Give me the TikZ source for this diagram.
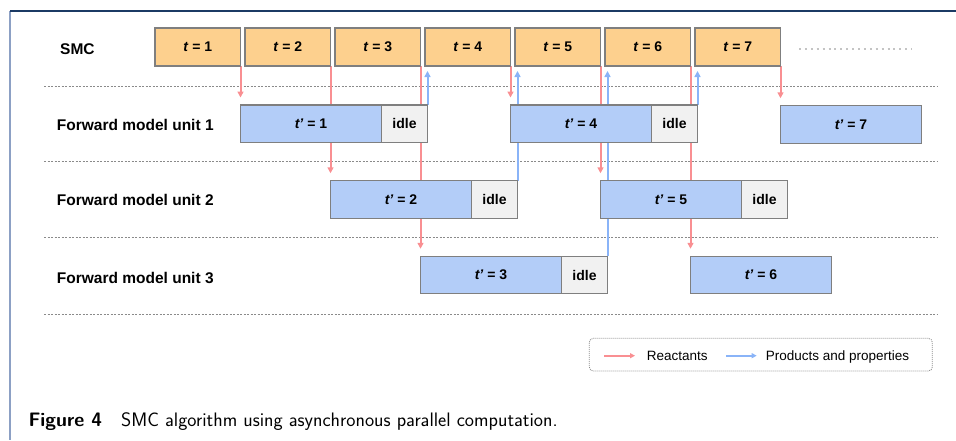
\documentclass[tikz,border=0pt]{standalone}
\usepackage{fontspec}
\newfontfamily\diafont{Liberation Sans}
\usetikzlibrary{arrows.meta,calc}
\pgfdeclarelayer{back}
\pgfsetlayers{back,main}

\definecolor{smcfill}{HTML}{FDD08E}
\definecolor{fwdfill}{HTML}{B3CDF8}
\definecolor{idlefill}{HTML}{F1F1F1}
\definecolor{boxline}{HTML}{7F7F7F}
\definecolor{reactred}{HTML}{F98F92}
\definecolor{prodblue}{HTML}{8AB4F8}
\definecolor{framenavy}{HTML}{1B3A64}
\definecolor{frameside}{HTML}{8CA0C4}
\definecolor{sepgray}{HTML}{8A8A8A}
\definecolor{moregray}{HTML}{C4C4C4}

\tikzset{
  box/.style={draw=boxline, line width=1.2pt, inner sep=0pt, outer sep=0pt,
    font=\diafont\bfseries\fontsize{14}{16}\selectfont},
  smcbox/.style={box, fill=smcfill, minimum width=85.5pt, minimum height=38pt},
  fwdbox/.style={box, fill=fwdfill, minimum width=141pt, minimum height=37.5pt, anchor=west},
  idlebox/.style={box, fill=idlefill, minimum width=46pt, minimum height=37.5pt, anchor=west},
  rowlabel/.style={font=\diafont\bfseries\fontsize{15.5}{18}\selectfont, anchor=base west, inner sep=0pt},
  react/.style={draw=reactred, line width=2pt, -{Triangle[length=6pt,width=6pt]}},
  prod/.style={draw=prodblue, line width=2pt, -{Triangle[length=6pt,width=6pt]}},
  keyreact/.style={draw=reactred, line width=1.6pt, -{Triangle[length=5pt,width=5pt]}},
  keyprod/.style={draw=prodblue, line width=1.6pt, -{Triangle[length=5pt,width=5pt]}},
  sepline/.style={draw=sepgray, line width=0.8pt, dash pattern=on 2pt off 1.5pt},
  keytext/.style={font=\diafont\fontsize{13.5}{16}\selectfont, anchor=base west, inner sep=0pt},
}

\begin{document}
\begin{tikzpicture}[x=1pt, y=-1pt]
\useasboundingbox (0,0) rectangle (956,440);

% frame
\draw[frameside, line width=1.5pt] (10,11) -- (10,440);
\draw[framenavy, line width=1.2pt] (10,11) -- (956,11);

% row labels
\node[rowlabel] (lsmc) at (60,54) {SMC};
\node[rowlabel] (lu1) at (56.7,130) {Forward model unit 1};
\node[rowlabel] (lu2) at (56.7,205) {Forward model unit 2};
\node[rowlabel] (lu3) at (56.7,283.7) {Forward model unit 3};

% SMC steps
\node[smcbox] (s1) at (197.75,47) {\textit{t} = 1};
\node[smcbox] (s2) at (287.75,47) {\textit{t} = 2};
\node[smcbox] (s3) at (377.75,47) {\textit{t} = 3};
\node[smcbox] (s4) at (467.75,47) {\textit{t} = 4};
\node[smcbox] (s5) at (557.75,47) {\textit{t} = 5};
\node[smcbox] (s6) at (647.75,47) {\textit{t} = 6};
\node[smcbox] (s7) at (737.75,47) {\textit{t} = 7};
\coordinate (ma) at (799,49);
\coordinate (mb) at (912,49);
\draw[moregray, line width=2pt, dash pattern=on 2pt off 3.9pt] (ma) -- (mb);

% forward model runs
\node[fwdbox] (f1) at (240.5,123.75) {\textit{t’} = 1};
\node[idlebox] (i1) at (f1.east) {idle};
\node[fwdbox] (f2) at (330.5,199.5) {\textit{t’} = 2};
\node[idlebox] (i2) at (f2.east) {idle};
\node[fwdbox] (f3) at (420.5,275) {\textit{t’} = 3};
\node[idlebox] (i3) at (f3.east) {idle};
\node[fwdbox] (f4) at (510.5,123.75) {\textit{t’} = 4};
\node[idlebox] (i4) at (f4.east) {idle};
\node[fwdbox] (f5) at (600.5,199.5) {\textit{t’} = 5};
\node[idlebox] (i5) at (f5.east) {idle};
\node[fwdbox] (f6) at (690.5,275) {\textit{t’} = 6};
\node[fwdbox] (f7) at (780.5,124.5) {\textit{t’} = 7};

% legend
\node[draw=sepgray, line width=0.8pt, dash pattern=on 1pt off 1pt, rounded corners=4pt,
      minimum width=343pt, minimum height=32.7pt, inner sep=0pt] (key) at (760.8,354.65) {};
\coordinate (ra) at (604,355.7);
\coordinate (rb) at (635,355.7);
\coordinate (pa) at (726,355.7);
\coordinate (pb) at (756.7,355.7);
\draw[keyreact] (ra) -- (rb);
\draw[keyprod] (pa) -- (pb);
\node[keytext] (kr) at (646.7,360.6) {Reactants};
\node[keytext] (kp) at (765.7,360.6) {Products and properties};

% caption
\node[anchor=base west, inner sep=0pt, font=\sffamily\fontsize{19.5}{23}\selectfont]
  (cap) at (28.3,426.5) {\textbf{Figure 4}\hspace{19pt}SMC algorithm using asynchronous parallel computation.};

\begin{pgfonlayer}{back}
  % lane separators
  \foreach \yy in {86,161,237.7,314}
    \draw[sepline] (44,\yy) -- (937,\yy);
  % reactants handed to the forward model
  \draw[react] (s1.south east) -- ($(s1.south east |- f1.north)+(0,-7.5)$);
  \draw[react] (s2.south east) -- ($(s2.south east |- f2.north)+(0,-7.5)$);
  \draw[react] (s3.south east) -- ($(s3.south east |- f3.north)+(0,-7.5)$);
  \draw[react] (s4.south east) -- ($(s4.south east |- f4.north)+(0,-7.5)$);
  \draw[react] (s5.south east) -- ($(s5.south east |- f5.north)+(0,-7.5)$);
  \draw[react] (s6.south east) -- ($(s6.south east |- f6.north)+(0,-7.5)$);
  \draw[react] (s7.south east) -- ($(s7.south east |- f7.north)+(0,-7.5)$);
  % products returned to SMC
  \draw[prod] (i1.north east) -- ($(i1.north east |- s4.south)+(0,5)$);
  \draw[prod] (i2.north east) -- ($(i2.north east |- s5.south)+(0,5)$);
  \draw[prod] (i3.north east) -- ($(i3.north east |- s6.south)+(0,5)$);
  \draw[prod] (i4.north east) -- ($(i4.north east |- s7.south)+(0,5)$);
\end{pgfonlayer}
\end{tikzpicture}
\end{document}
